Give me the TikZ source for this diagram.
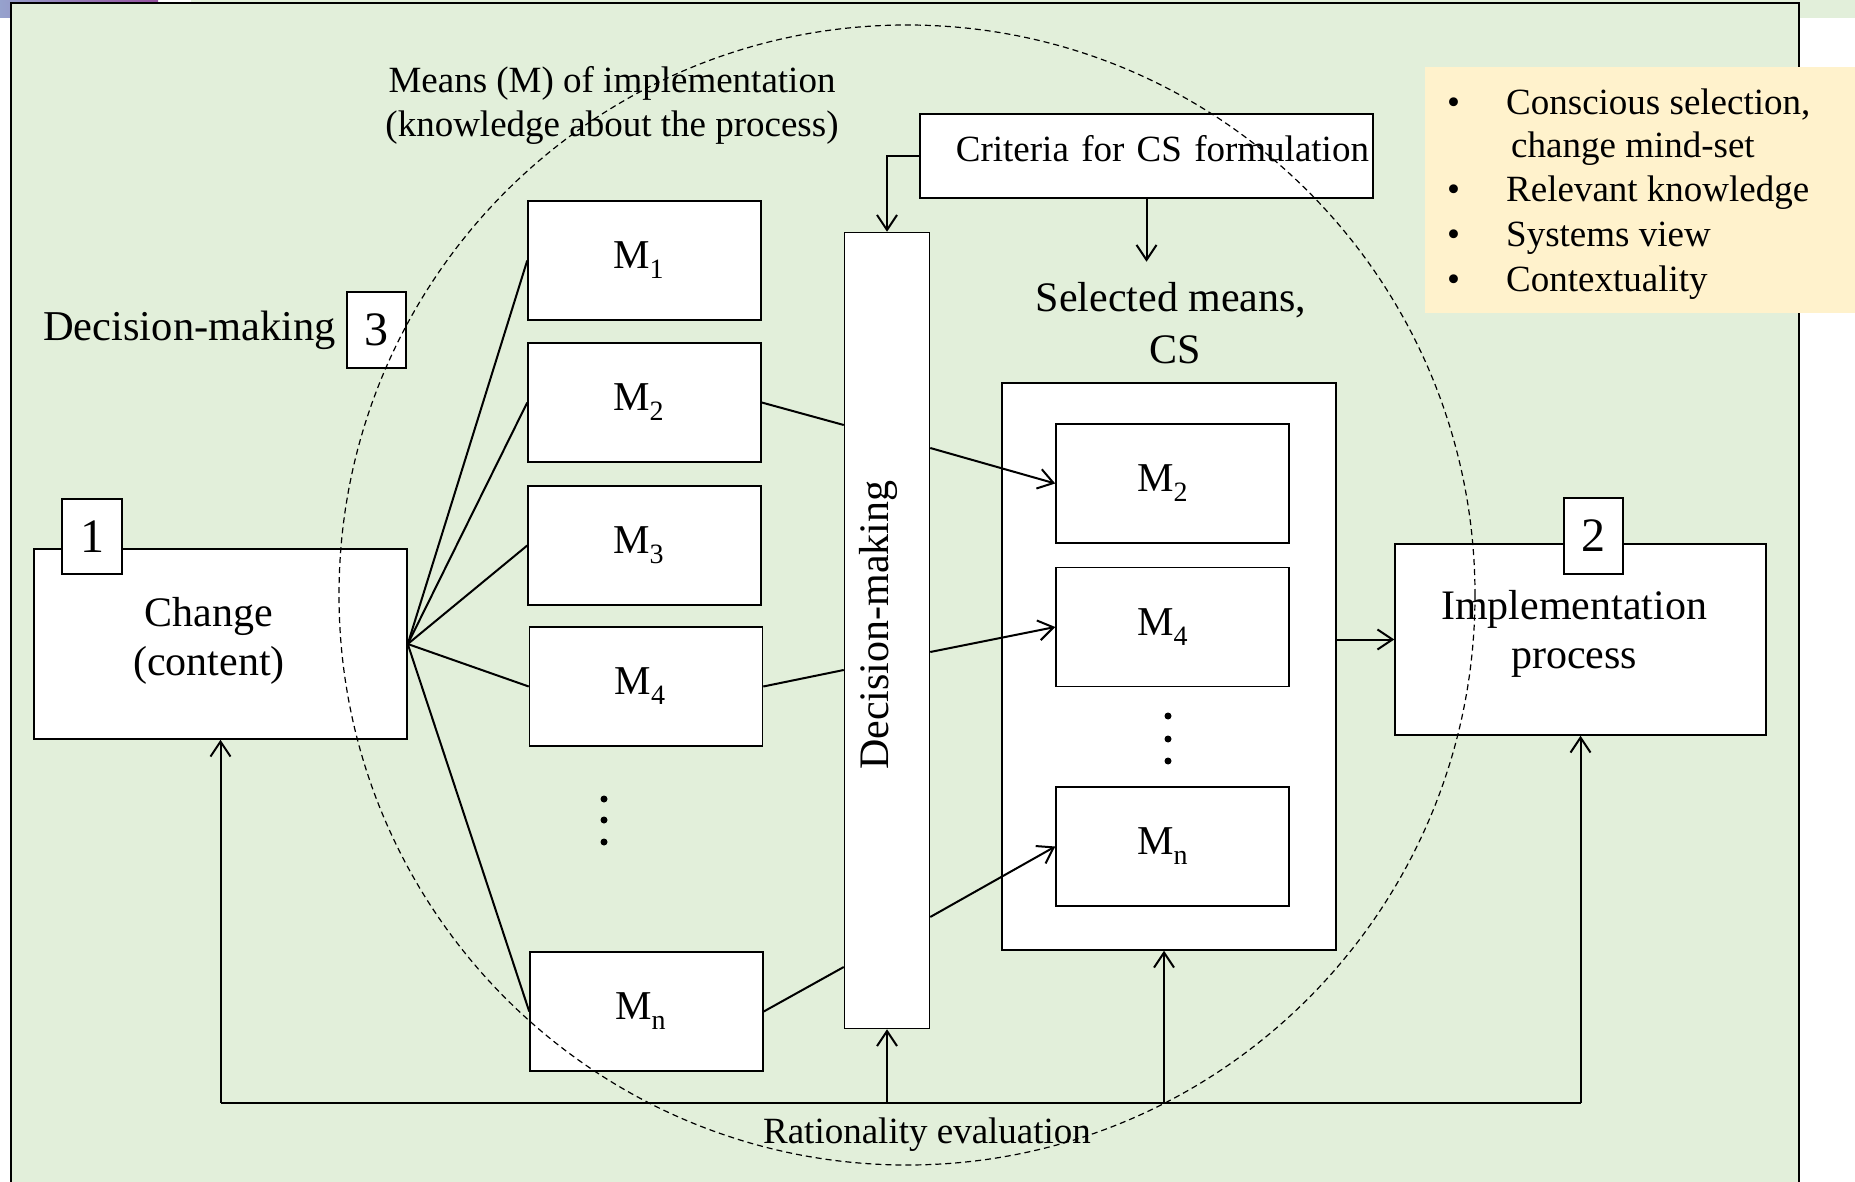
\documentclass[tikz,border=0pt]{standalone}
\usepackage{fontspec}
\setmainfont{Liberation Serif}
\usetikzlibrary{arrows.meta}
\definecolor{panelgreen}{RGB}{226,239,218}
\definecolor{notefill}{RGB}{255,242,204}
\definecolor{bandblue}{RGB}{150,162,205}
\definecolor{bandpurple}{RGB}{150,82,160}
% M with a lowered index; the trailing space sets the label a little left of centre
\newcommand\Msub[2][12pt]{M\raisebox{-10pt}{\fontsize{28}{28}\selectfont #2}\hspace*{#1}}

\begin{document}
\begin{tikzpicture}[x=1pt,y=-1pt,
  box/.style={draw=black, line width=1.5pt, fill=white, inner sep=0pt},
  mbox/.style={box, minimum width=233pt, minimum height=119pt, font=\fontsize{41}{41}\selectfont},
  numbox/.style={box, minimum width=59pt, minimum height=76pt, font=\fontsize{48}{48}\selectfont},
  conn/.style={line width=2pt},
  arr/.style={conn, -{Straight Barb[length=15pt,width=20pt]}},
  bigtext/.style={font=\fontsize{42}{49}\selectfont, inner sep=0pt},
  smalltext/.style={font=\fontsize{37}{44}\selectfont, inner sep=0pt},
  dot/.style={circle, fill=black, inner sep=0pt, minimum size=7pt},
]
\useasboundingbox (0,0) rectangle (1855,1182);

% slide background strips and panel
\shade[left color=bandblue, right color=bandpurple]
  (0,0) -- (158,0) -- (158,3) -- (10,3) -- (10,18) -- (0,18) -- cycle;
\fill[panelgreen] (191,0) rectangle (1855,4);
\fill[panelgreen] (1799,0) rectangle (1855,18);
\draw[line width=2pt, fill=panelgreen] (11,3.5) rectangle (1799,1200);

% change (content)
\node[box, minimum width=373pt, minimum height=190pt] (chg) at (220.5,644) {};
\node[bigtext, align=center] (chgtext) at (209,641) {Change\\(content)};
\node[numbox, minimum width=60pt, minimum height=75pt] (n1) at (92,536.5) {1};

% means of implementation
\node[mbox] (m1) at (644.5,260.5) {\Msub{1}};
\node[mbox] (m2) at (644.5,402.5) {\Msub{2}};
\node[mbox] (m3) at (644.5,545.5) {\Msub{3}};
\node[mbox] (m4) at (646,686.5) {\Msub{4}};
\node[mbox] (mn) at (646.5,1011.5) {\Msub{n}};
\node[dot] (ld1) at (604,799) {};
\node[dot] (ld2) at (604,820) {};
\node[dot] (ld3) at (604,842) {};

% decision-making column
\node[box, minimum width=85pt, minimum height=796pt] (dm) at (887,630.5) {};
\node[bigtext, rotate=90] (dmtext) at (878,625) {Decision-making};

% criteria
\node[box, minimum height=84pt, text width=445pt, inner xsep=4pt, align=right,
      text height=25pt, text depth=13pt, font=\fontsize{37}{37}\selectfont]
      (crit) at (1146.5,156) {Criteria for CS formulation};

% selected means
\node[bigtext, align=center, font=\fontsize{42}{52}\selectfont] (seltext) at (1171,323) {Selected means,\\\hspace*{8pt}CS};
\node[box, minimum width=334pt, minimum height=567pt] (sel) at (1169,666.5) {};
\node[mbox] (s2) at (1172.5,483.5) {\Msub[20pt]{2}};
\node[mbox] (s4) at (1172.5,627) {\Msub[20pt]{4}};
\node[mbox] (sn) at (1172.5,846.5) {\Msub[20pt]{n}};
\node[dot] (rd1) at (1168,716) {};
\node[dot] (rd2) at (1168,739) {};
\node[dot] (rd3) at (1168,761) {};

% implementation process
\node[box, minimum width=371pt, minimum height=191pt] (impl) at (1580.5,639.5) {};
\node[bigtext, align=center] (impltext) at (1574,634) {Implementation\\process};
\node[numbox] (n2) at (1593.5,536) {2};

% decision-making label
\node[bigtext, font=\fontsize{42.5}{49}\selectfont, anchor=base west] (dmlabel) at (43,340) {Decision-making};
\node[numbox] (n3) at (376.5,330) {3};

% means caption
\node[smalltext, align=center] (meanstext) at (612,105) {Means (M) of implementation\\(knowledge about the process)};

% fan from change to each means
\foreach \m in {m1,m2,m3,m4,mn} \draw[conn] (chg.east) -- (\m.west);

% means into decision-making
\draw[conn] (m2.east) -- ([yshift=205.5pt]dm.west);
\draw[conn] (m4.east) -- ([yshift=-39.5pt]dm.west);
\draw[conn] (mn.east) -- ([yshift=-336.5pt]dm.west);

% decision-making to selected means
\draw[arr] ([yshift=182.5pt]dm.east) -- (s2.west);
\draw[arr] ([yshift=-21.5pt]dm.east) -- (s4.west);
\draw[arr] ([yshift=-286.5pt]dm.east) -- (sn.west);

% selected means to implementation
\draw[arr] (impl.west -| sel.east) -- (impl.west);

% criteria arrows
\draw[arr] (crit.west) -| (dm.north);
\coordinate (critend) at ([yshift=-63pt]crit.south);
\draw[arr] (crit.south) -- (critend);

% rationality evaluation feedback
\coordinate (fbl) at (220.5,1103);
\coordinate (fbr) at (1580.5,1103);
\coordinate (selin) at ([xshift=-5pt]sel.south);
\draw[conn] (fbl) -- (fbr);
\draw[arr] (fbl) -- (chg.south);
\draw[arr] (fbl -| dm.south) -- (dm.south);
\draw[arr] (fbl -| selin) -- (selin);
\draw[arr] (fbr) -- (impl.south);
\node[smalltext, anchor=base] (ratio) at (927,1143) {Rationality evaluation};

% key qualities note
\fill[notefill] (1425,67) rectangle (1855,313);
\begin{scope}[every node/.style={smalltext, anchor=base west}]
  \node (q1) at (1447,115) {\makebox[59pt][l]{\textbullet}Conscious selection,};
  \node (q1b) at (1511,158) {change mind-set};
  \node (q2) at (1447,202) {\makebox[59pt][l]{\textbullet}Relevant knowledge};
  \node (q3) at (1447,247) {\makebox[59pt][l]{\textbullet}Systems view};
  \node (q4) at (1447,292) {\makebox[59pt][l]{\textbullet}Contextuality};
\end{scope}

% scope of decision-making
\draw[line width=1.2pt, dash pattern=on 6pt off 4pt] (907,595) ellipse [x radius=568pt, y radius=570pt];
\end{tikzpicture}
\end{document}
